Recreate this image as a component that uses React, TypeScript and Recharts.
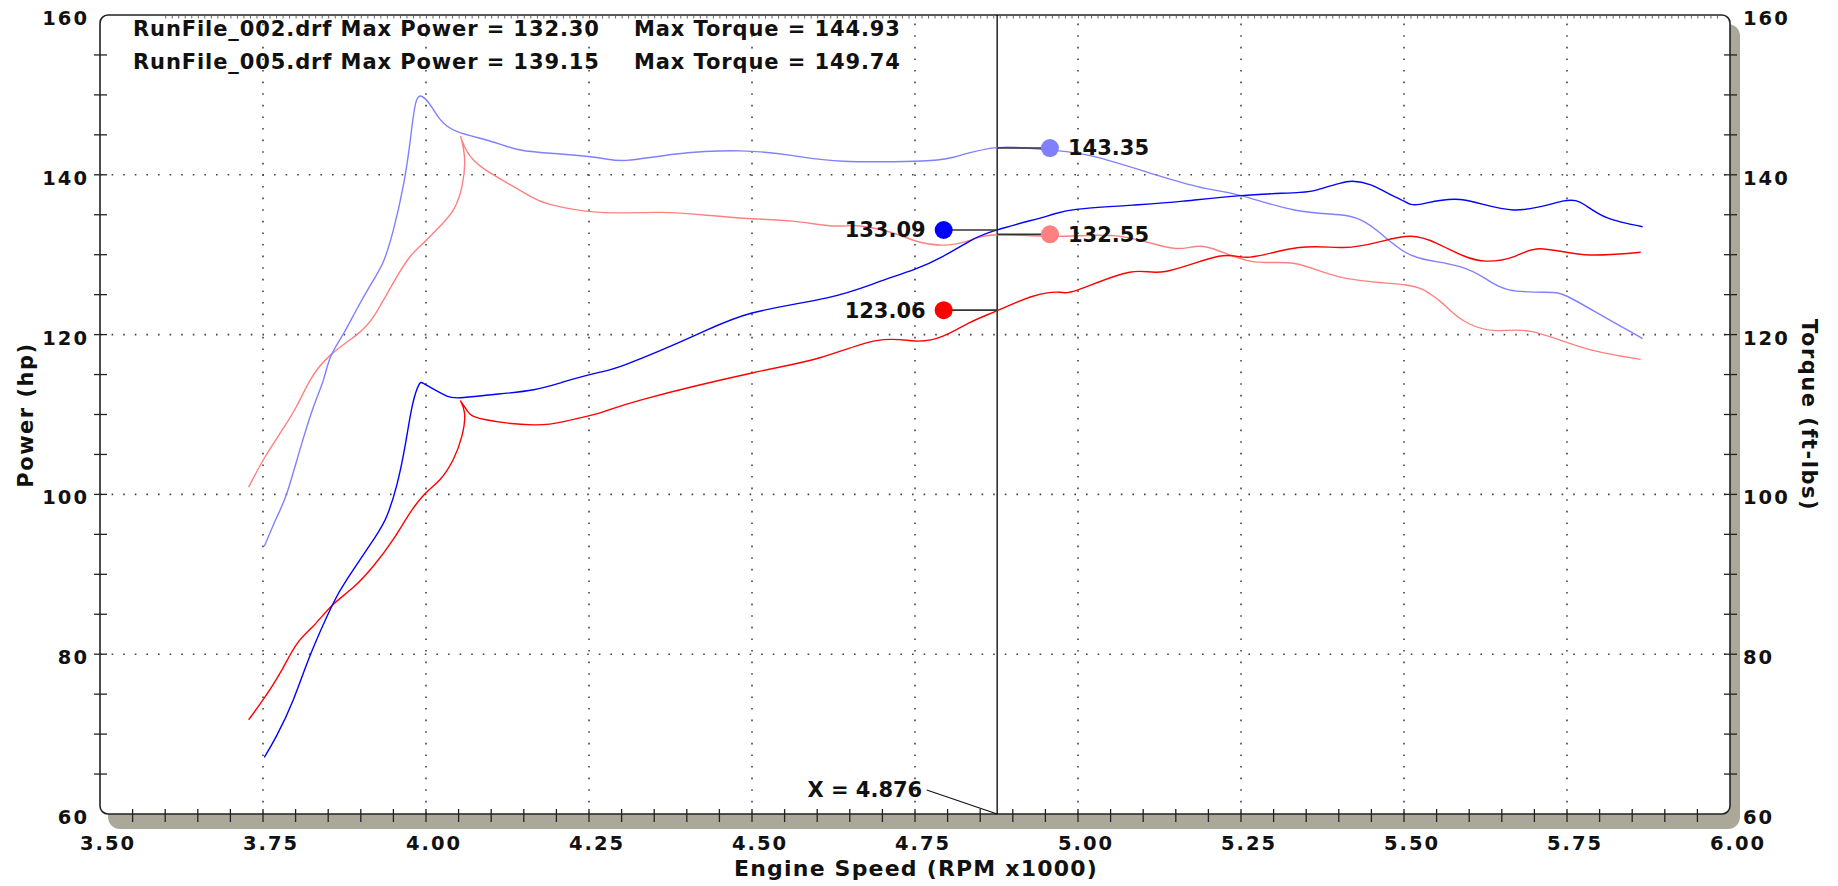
import React from 'react';
import { LineChart, Line, XAxis, YAxis, ReferenceLine, ReferenceDot } from 'recharts';

// Run 005 (blue)
const run005PowerRpm = [3.752, 3.771, 3.797, 3.823, 3.856, 3.879, 3.92, 3.94, 3.955, 3.968, 3.979, 3.989, 3.996, 4.011, 4.032, 4.053, 4.104, 4.165, 4.216, 4.267, 4.308, 4.41, 4.5, 4.615, 4.691, 4.75, 4.793, 4.834, 4.876, 4.955, 5.0, 5.092, 5.161, 5.25, 5.34, 5.37, 5.4, 5.421, 5.449, 5.475, 5.5, 5.524, 5.586, 5.668, 5.743, 5.777, 5.812, 5.866];
const run005PowerHp = [67.1, 69.8, 74.4, 80.0, 86.1, 89.4, 94.4, 97.3, 101.1, 106.1, 111.1, 113.7, 113.9, 113.2, 112.3, 112.1, 112.5, 113.1, 114.2, 115.3, 116.3, 119.8, 122.7, 124.6, 126.5, 128.2, 129.8, 131.7, 133.1, 134.9, 135.7, 136.25, 136.7, 137.4, 137.8, 138.2, 138.9, 139.2, 138.75, 137.7, 136.7, 136.3, 136.9, 135.6, 136.7, 136.25, 134.6, 133.5];

const run005TorqueRpm = [3.752, 3.771, 3.787, 3.807, 3.828, 3.843, 3.854, 3.874, 3.894, 3.92, 3.935, 3.95, 3.966, 3.976, 3.984, 3.994, 4.007, 4.022, 4.048, 4.099, 4.145, 4.206, 4.267, 4.308, 4.384, 4.482, 4.563, 4.64, 4.75, 4.809, 4.876, 4.957, 5.024, 5.127, 5.195, 5.25, 5.332, 5.401, 5.435, 5.462, 5.5, 5.538, 5.586, 5.625, 5.661, 5.716, 5.75, 5.805, 5.866];
const run005TorqueFtLb = [93.5, 97.1, 100.25, 105.7, 111.1, 114.4, 117.3, 120.2, 123.2, 126.9, 129.2, 133.1, 139.0, 144.4, 148.9, 149.8, 148.7, 146.9, 145.4, 144.2, 143.1, 142.6, 142.1, 141.8, 142.6, 143.0, 142.4, 141.7, 141.7, 142.2, 143.4, 143.1, 142.3, 139.8, 138.3, 137.4, 135.6, 135.0, 134.3, 132.8, 130.4, 129.3, 128.5, 127.0, 125.6, 125.3, 124.8, 122.3, 119.5];

// Run 002 (red)
const run002PowerRpm = [3.728, 3.751, 3.777, 3.802, 3.828, 3.856, 3.889, 3.92, 3.95, 3.976, 4.0, 4.022, 4.042, 4.055, 4.059, 4.053, 4.063, 4.088, 4.165, 4.216, 4.267, 4.333, 4.5, 4.604, 4.691, 4.75, 4.793, 4.834, 4.876, 4.931, 4.972, 5.0, 5.079, 5.134, 5.216, 5.264, 5.339, 5.408, 5.462, 5.51, 5.551, 5.59, 5.627, 5.67, 5.709, 5.777, 5.863];
const run002PowerHp = [71.8, 74.4, 77.75, 81.3, 83.6, 86.1, 88.4, 91.1, 94.4, 97.75, 100.2, 101.9, 104.4, 107.3, 110.25, 111.7, 110.5, 109.4, 108.7, 109.2, 110.2, 111.9, 115.2, 117.1, 119.25, 119.2, 119.8, 121.5, 123.0, 124.8, 125.3, 125.6, 127.8, 127.9, 129.8, 129.7, 130.9, 130.9, 131.6, 132.3, 131.4, 129.9, 129.2, 129.8, 130.75, 130.0, 130.3];

const run002TorqueRpm = [3.728, 3.751, 3.777, 3.802, 3.823, 3.853, 3.894, 3.92, 3.95, 3.976, 3.999, 4.022, 4.042, 4.055, 4.059, 4.053, 4.063, 4.088, 4.124, 4.16, 4.19, 4.267, 4.359, 4.436, 4.5, 4.563, 4.625, 4.666, 4.717, 4.75, 4.793, 4.834, 4.876, 4.969, 5.065, 5.147, 5.195, 5.264, 5.332, 5.408, 5.503, 5.538, 5.558, 5.592, 5.64, 5.695, 5.777, 5.863];
const run002TorqueFtLb = [100.9, 104.4, 107.75, 111.1, 114.4, 117.4, 120.0, 122.3, 126.5, 129.8, 131.7, 133.6, 135.6, 138.5, 142.3, 144.8, 142.9, 140.8, 139.0, 137.3, 136.3, 135.3, 135.3, 134.9, 134.5, 134.2, 133.6, 133.6, 132.7, 131.75, 131.2, 131.8, 132.5, 132.3, 132.3, 130.8, 131.0, 129.2, 128.9, 127.1, 126.2, 125.2, 124.0, 121.7, 120.5, 120.4, 118.3, 116.9];

const rpmTicks = [3.5, 3.55, 3.6, 3.65, 3.7, 3.75, 3.8, 3.85, 3.9, 3.95, 4.0, 4.05, 4.1, 4.15, 4.2, 4.25, 4.3, 4.35, 4.4, 4.45, 4.5, 4.55, 4.6, 4.65, 4.7, 4.75, 4.8, 4.85, 4.9, 4.95, 5.0, 5.05, 5.1, 5.15, 5.2, 5.25, 5.3, 5.35, 5.4, 5.45, 5.5, 5.55, 5.6, 5.65, 5.7, 5.75, 5.8, 5.85, 5.9, 5.95, 6.0];
const rpmGrid = [3.75, 4.0, 4.25, 4.5, 4.75, 5.0, 5.25, 5.5, 5.75];
const valueTicks = [60, 65, 70, 75, 80, 85, 90, 95, 100, 105, 110, 115, 120, 125, 130, 135, 140, 145, 150, 155, 160];
const valueGrid = [80, 100, 120, 140];

const headerLines = [
  { file: 'RunFile_002.drf', maxPower: '132.30', maxTorque: '144.93' },
  { file: 'RunFile_005.drf', maxPower: '139.15', maxTorque: '149.74' },
];

const cursorRpm = 4.876;
const cursorReadouts = [
  { rpm: 4.794, value: 133.09, axis: 'hp', color: '#0000ff', side: 'left' },
  { rpm: 4.794, value: 123.06, axis: 'hp', color: '#ff0000', side: 'left' },
  { rpm: 4.957, value: 143.35, axis: 'tq', color: '#8080ff', side: 'right' },
  { rpm: 4.957, value: 132.55, axis: 'tq', color: '#ff8080', side: 'right' },
];

const zip = (xs: number[], ys: number[]) => xs.map((x, i) => ({ rpm: x, v: ys[i] }));
const pow005 = zip(run005PowerRpm, run005PowerHp);
const tq005 = zip(run005TorqueRpm, run005TorqueFtLb);
const pow002 = zip(run002PowerRpm, run002PowerHp);
const tq002 = zip(run002TorqueRpm, run002TorqueFtLb);

const W = 1822;
const H = 878;
const PL = 92, PT = 7, PR = 1722, PB = 806;
const FONT = "'DejaVu Sans', Verdana, sans-serif";

const txt = { fontFamily: FONT, fontWeight: 700, fill: '#111' } as const;

const XTick = (props: any) => {
  const { x, y, payload } = props;
  const v = payload.value;
  const isEnd = v === 3.5 || v === 6.0;
  const major = Math.abs(v * 4 - Math.round(v * 4)) < 1e-6;
  return (
    <g>
      {!isEnd && <line x1={x} x2={x} y1={y - 5} y2={y + 8} stroke="#222" strokeWidth={1.3} />}
      {major && (
        <text x={x + 8} y={y + 36} textAnchor="middle" fontSize={19.5} letterSpacing={2} {...txt}>
          {v.toFixed(2)}
        </text>
      )}
    </g>
  );
};

const YTick = (side: 'left' | 'right') => (props: any) => {
  const { x, y, payload } = props;
  const v = payload.value;
  const isEnd = v === 60 || v === 160;
  const major = v % 20 === 0;
  // x is where the tick meets the axis line
  return (
    <g>
      {!isEnd && <line x1={x - 6} x2={x + 7} y1={y} y2={y} stroke="#222" strokeWidth={1.3} />}
      {major && (
        <text
          x={side === 'left' ? x - 11 : x + 13}
          y={y + 10}
          textAnchor={side === 'left' ? 'end' : 'start'}
          fontSize={19.5}
          letterSpacing={2}
          {...txt}
        >
          {v}
        </text>
      )}
    </g>
  );
};

const dotted = { stroke: '#444', strokeWidth: 1.6, strokeDasharray: '1.6 10' };

export default function App() {
  const step = (PR - PL) / 250; // small ruler marks along the top edge
  return (
    <div style={{ position: 'relative', width: W, height: H }}>
      <svg width={W} height={H} style={{ position: 'absolute', left: 0, top: 0 }}>
        <rect x={PL + 8} y={PT + 9} width={PR - PL + 2} height={PB - PT + 6} rx={12} fill="#aca899" />
        <rect x={PL} y={PT} width={PR - PL} height={PB - PT} rx={8} fill="#fff" stroke="#222" strokeWidth={1.6} />
        <line
          x1={PL + 10 * step}
          x2={PR - 8}
          y1={PT + 2}
          y2={PT + 2}
          stroke="#666"
          strokeWidth={3}
          strokeDasharray={`1 ${step - 1}`}
        />
      </svg>
      <div style={{ position: 'absolute', left: 0, top: 0 }}>
        <LineChart width={W} height={H} data={pow005} margin={{ top: PT, right: W - PR - 1, bottom: H - PB - 1, left: PL - 1 }}>
          <XAxis
            dataKey="rpm"
            type="number"
            domain={[3.5, 6.0]}
            ticks={rpmTicks}
            interval={0}
            height={1}
            axisLine={false}
            tickLine={false}
            tickSize={0}
            tickMargin={0}
            tick={<XTick />}
            allowDataOverflow
          />
          <YAxis
            yAxisId="hp"
            domain={[60, 160]}
            ticks={valueTicks}
            interval={0}
            width={1}
            axisLine={false}
            tickLine={false}
            tickSize={0}
            tickMargin={0}
            tick={YTick('left')}
            allowDataOverflow
          />
          <YAxis
            yAxisId="tq"
            orientation="right"
            domain={[60, 160]}
            ticks={valueTicks}
            interval={0}
            width={1}
            axisLine={false}
            tickLine={false}
            tickSize={0}
            tickMargin={0}
            tick={YTick('right')}
            allowDataOverflow
          />
          {rpmGrid.map((g) => (
            <ReferenceLine key={'gx' + g} x={g} yAxisId="hp" {...dotted} />
          ))}
          {valueGrid.map((g) => (
            <ReferenceLine key={'gy' + g} y={g} yAxisId="hp" {...dotted} />
          ))}
          <ReferenceLine x={cursorRpm} yAxisId="hp" stroke="#000" strokeWidth={1.3} />
          <ReferenceLine
            yAxisId="hp"
            segment={[{ x: 4.768, y: 63.0 }, { x: cursorRpm, y: 60 }]}
            stroke="#111"
            strokeWidth={1.2}
          />
          <ReferenceDot
            x={4.768}
            y={63.0}
            yAxisId="hp"
            r={0.5}
            fill="none"
            stroke="none"
            label={{ value: `X = ${cursorRpm.toFixed(3)}`, position: 'left', offset: 4, fontSize: 21, ...txt }}
          />
          <Line data={tq002} dataKey="v" yAxisId="tq" type="natural" stroke="#ff8080" strokeWidth={1.4} dot={false} activeDot={false} isAnimationActive={false} />
          <Line data={tq005} dataKey="v" yAxisId="tq" type="natural" stroke="#8080ff" strokeWidth={1.4} dot={false} activeDot={false} isAnimationActive={false} />
          <Line data={pow002} dataKey="v" yAxisId="hp" type="natural" stroke="#ff0000" strokeWidth={1.4} dot={false} activeDot={false} isAnimationActive={false} />
          <Line data={pow005} dataKey="v" yAxisId="hp" type="natural" stroke="#0000ff" strokeWidth={1.4} dot={false} activeDot={false} isAnimationActive={false} />
          {cursorReadouts.map((r) => (
            <ReferenceLine
              key={'ld' + r.value}
              yAxisId={r.axis}
              segment={[{ x: r.rpm, y: r.value }, { x: cursorRpm, y: r.value }]}
              stroke="#333"
              strokeWidth={1.6}
            />
          ))}
          {cursorReadouts.map((r) => (
            <ReferenceDot
              key={'rd' + r.value}
              x={r.rpm}
              y={r.value}
              yAxisId={r.axis}
              r={9}
              fill={r.color}
              stroke="none"
              label={{ value: r.value.toFixed(2), position: r.side, offset: 9, fontSize: 21, ...txt }}
            />
          ))}
        </LineChart>
      </div>
      <svg width={W} height={H} style={{ position: 'absolute', left: 0, top: 0, pointerEvents: 'none' }}>
        {headerLines.map((h, i) => (
          <g key={h.file}>
            <text x={125} y={27.5 + i * 33} fontSize={21} letterSpacing={0.9} {...txt}>
              {`${h.file} Max Power = ${h.maxPower}`}
            </text>
            <text x={626} y={27.5 + i * 33} fontSize={21} letterSpacing={0.9} {...txt}>
              {`Max Torque = ${h.maxTorque}`}
            </text>
          </g>
        ))}
        <text x={908} y={868} textAnchor="middle" fontSize={22} letterSpacing={1.2} {...txt}>
          Engine Speed (RPM x1000)
        </text>
        <text
          transform="translate(25 407) rotate(-90)"
          textAnchor="middle"
          fontSize={21}
          letterSpacing={1.5}
          {...txt}
        >
          Power (hp)
        </text>
        <text
          transform="translate(1794 407) rotate(90)"
          textAnchor="middle"
          fontSize={21}
          letterSpacing={1.5}
          {...txt}
        >
          Torque (ft-lbs)
        </text>
      </svg>
    </div>
  );
}
